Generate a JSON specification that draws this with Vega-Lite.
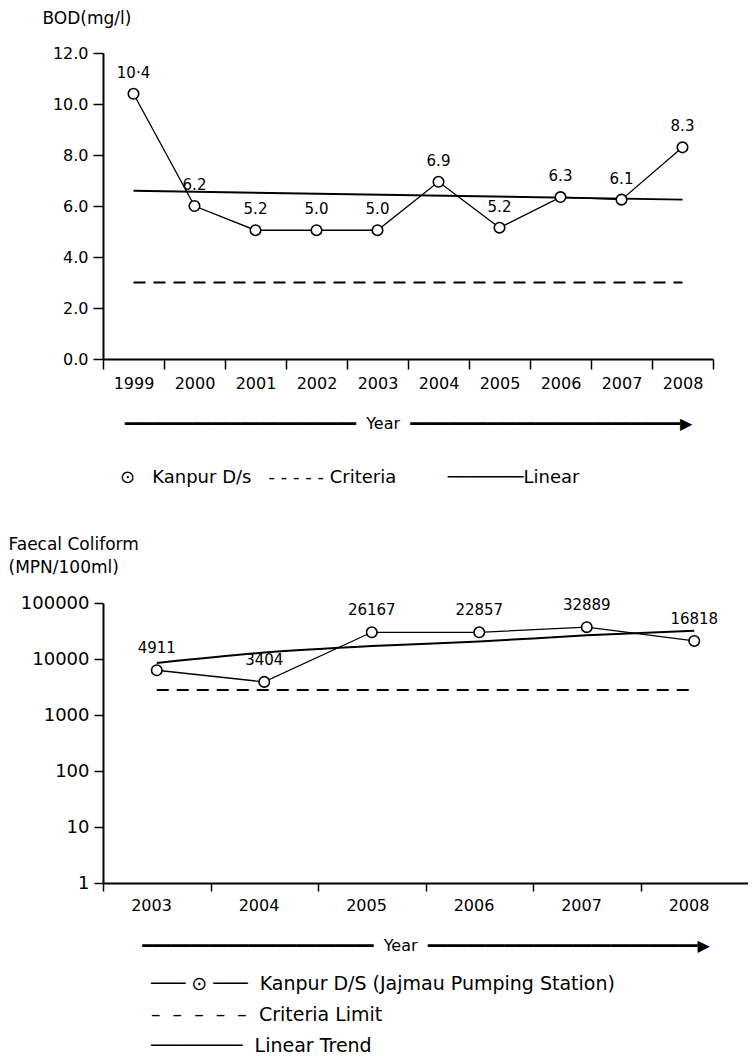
{
  "$schema": "https://vega.github.io/schema/vega-lite/v6.json",
  "background": "white",
  "padding": {"left": 8, "top": 9, "right": 0, "bottom": 0},
  "spacing": 48,
  "config": {
    "view": {"stroke": null},
    "axis": {"grid": false, "domainColor": "black", "tickColor": "black", "labelColor": "black", "titleColor": "black", "labelFont": "DejaVu Sans", "titleFont": "DejaVu Sans", "titleFontWeight": "normal", "domainWidth": 2, "tickWidth": 1.5},
    "title": {"font": "DejaVu Sans", "fontWeight": "normal", "color": "black", "anchor": "start"},
    "text": {"font": "DejaVu Sans", "color": "black"}
  },
  "datasets": {
    "bod": [
      {"year": 1999, "value": 10.4, "label": "10·4"},
      {"year": 2000, "value": 6.0, "label": "6.2"},
      {"year": 2001, "value": 5.05, "label": "5.2"},
      {"year": 2002, "value": 5.05, "label": "5.0"},
      {"year": 2003, "value": 5.05, "label": "5.0"},
      {"year": 2004, "value": 6.95, "label": "6.9"},
      {"year": 2005, "value": 5.15, "label": "5.2"},
      {"year": 2006, "value": 6.35, "label": "6.3"},
      {"year": 2007, "value": 6.25, "label": "6.1"},
      {"year": 2008, "value": 8.3, "label": "8.3"}
    ],
    "bodTrend": [{"year": 1999, "value": 6.6}, {"year": 2008, "value": 6.25}],
    "bodCriteria": [{"year": 1999, "value": 3.0}, {"year": 2008, "value": 3.0}],
    "fc": [
      {"year": 2003, "value": 6300, "label": "4911"},
      {"year": 2004, "value": 3900, "label": "3404"},
      {"year": 2005, "value": 30000, "label": "26167"},
      {"year": 2006, "value": 30000, "label": "22857"},
      {"year": 2007, "value": 37000, "label": "32889"},
      {"year": 2008, "value": 21000, "label": "16818"}
    ],
    "fcTrend": [
      {"year": 2003, "value": 8500},
      {"year": 2004, "value": 13000},
      {"year": 2005, "value": 17000},
      {"year": 2006, "value": 20500},
      {"year": 2007, "value": 26500},
      {"year": 2008, "value": 32000}
    ],
    "fcCriteria": [{"year": 2003, "value": 2800}, {"year": 2008, "value": 2800}]
  },
  "vconcat": [
    {
      "width": 610,
      "height": 306,
      "title": {"text": "⊙\u00a0\u00a0\u00a0Kanpur D/s\u00a0\u00a0\u00a0- - - - - Criteria\u00a0\u00a0\u00a0\u00a0\u00a0\u00a0\u00a0\u00a0\u00a0───────Linear", "orient": "bottom", "anchor": "start", "frame": "group", "dx": 17, "offset": 38, "fontSize": 18},
      "encoding": {
        "x": {"field": "year", "type": "quantitative", "title": "━━━━━━━━━━━━━━━━━━━━━━━━\u00a0\u00a0Year\u00a0\u00a0━━━━━━━━━━━━━━━━━━━━━━━━━━━━▶",
          "scale": {"domain": [1998.5, 2008.5], "nice": false, "zero": false},
          "axis": {"values": [1998.5, 1999.5, 2000.5, 2001.5, 2002.5, 2003.5, 2004.5, 2005.5, 2006.5, 2007.5, 2008.5],
            "labelExpr": "datum.value > 2008 ? '' : format(datum.value + 0.5, 'd')",
            "labelOffset": 30.5, "labelFlush": false, "labelOverlap": false, "labelBound": false,
            "tickSize": 10, "labelPadding": 6, "labelFontSize": 16, "titleFontSize": 16, "titlePadding": 24}},
        "y": {"field": "value", "type": "quantitative", "title": "BOD(mg/l)",
          "scale": {"domain": [0, 12], "nice": false},
          "axis": {"values": [0, 2, 4, 6, 8, 10, 12], "format": ".1f", "tickSize": 10, "labelPadding": 5, "labelFontSize": 16,
            "titleAngle": 0, "titleAlign": "left", "titleBaseline": "top", "titleX": -61, "titleY": -43, "titleFontSize": 17}}
      },
      "layer": [
        {"data": {"name": "bodCriteria"}, "mark": {"type": "line", "strokeDash": [12, 8], "strokeWidth": 2, "color": "black"}},
        {"data": {"name": "bodTrend"}, "mark": {"type": "line", "strokeWidth": 2, "color": "black"}},
        {"data": {"name": "bod"}, "mark": {"type": "line", "strokeWidth": 1.3, "color": "black"}},
        {"data": {"name": "bod"}, "mark": {"type": "point", "shape": "circle", "filled": true, "fill": "white", "stroke": "black", "strokeWidth": 1.6, "size": 110, "opacity": 1}},
        {"data": {"name": "bod"}, "mark": {"type": "text", "dy": -21, "fontSize": 15}, "encoding": {"text": {"field": "label"}}}
      ]
    },
    {
      "width": 645,
      "height": 280,
      "title": {"text": ["───\u00a0⊙\u00a0───\u00a0\u00a0Kanpur D/S (Jajmau Pumping Station)", "\u00a0–\u00a0\u00a0–\u00a0\u00a0–\u00a0\u00a0–\u00a0\u00a0–\u00a0\u00a0Criteria Limit", "\u00a0────────\u00a0\u00a0Linear Trend"], "orient": "bottom", "anchor": "start", "frame": "group", "dx": 48, "offset": 22, "fontSize": 19, "lineHeight": 31},
      "encoding": {
        "x": {"field": "year", "type": "quantitative", "title": "━━━━━━━━━━━━━━━━━━━━━━━━\u00a0\u00a0Year\u00a0\u00a0━━━━━━━━━━━━━━━━━━━━━━━━━━━━▶",
          "scale": {"domain": [2002.5, 2008.5], "nice": false, "zero": false},
          "axis": {"values": [2002.5, 2003.5, 2004.5, 2005.5, 2006.5, 2007.5],
            "labelExpr": "format(datum.value + 0.5, 'd')",
            "labelOffset": 48, "labelFlush": false, "labelOverlap": false, "labelBound": false,
            "tickSize": 8, "labelPadding": 6, "labelFontSize": 16, "titleFontSize": 16, "titlePadding": 24}},
        "y": {"field": "value", "type": "quantitative", "title": ["Faecal Coliform", "\u00a0(MPN/100ml)"],
          "scale": {"type": "log", "domain": [1, 100000], "nice": false},
          "axis": {"values": [1, 10, 100, 1000, 10000, 100000], "format": "d", "tickSize": 9, "labelPadding": 5, "labelFontSize": 18,
            "titleAngle": 0, "titleAlign": "left", "titleBaseline": "top", "titleX": -95, "titleY": -67, "titleFontSize": 17, "titleLineHeight": 23}}
      },
      "layer": [
        {"data": {"name": "fcCriteria"}, "mark": {"type": "line", "strokeDash": [12, 8], "strokeWidth": 2, "color": "black"}},
        {"data": {"name": "fcTrend"}, "mark": {"type": "line", "strokeWidth": 2, "color": "black", "interpolate": "monotone"}},
        {"data": {"name": "fc"}, "mark": {"type": "line", "strokeWidth": 1.3, "color": "black"}},
        {"data": {"name": "fc"}, "mark": {"type": "point", "shape": "circle", "filled": true, "fill": "white", "stroke": "black", "strokeWidth": 1.6, "size": 110, "opacity": 1}},
        {"data": {"name": "fc"}, "mark": {"type": "text", "dy": -22, "fontSize": 15}, "encoding": {"text": {"field": "label"}}}
      ]
    }
  ]
}
